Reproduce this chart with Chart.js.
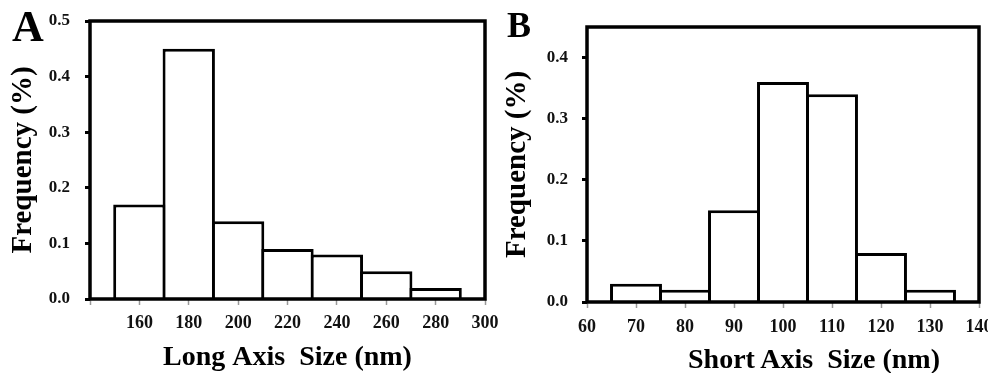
<!DOCTYPE html>
<html>
<head>
<meta charset="utf-8">
<script src="https://cdn.jsdelivr.net/npm/chart.js@4.4.1/dist/chart.umd.min.js"></script>
<style>
  html, body { margin: 0; padding: 0; background: #fff; }
  #wrap { position: relative; width: 988px; height: 373px; overflow: hidden; }
  canvas { position: absolute; top: 0; }
  #cA { left: 0; }
  #cB { left: 494px; }
  .txt { position: absolute; font-family: "Liberation Serif", "Times New Roman", serif; font-weight: bold; color: #000; line-height: 1; white-space: pre; }
</style>
</head>
<body>
<div id="wrap">
  <canvas id="cA" width="520" height="373"></canvas>
  <canvas id="cB" width="494" height="373"></canvas>
  <div class="txt" style="left:12px;top:5px;font-size:44px;">A</div>
  <div class="txt" style="left:507px;top:7px;font-size:36px;">B</div>
  <div class="txt" style="left:688px;top:345px;font-size:28px;">Short Axis  Size (nm)</div>
</div>
<script>
// ── data ──────────────────────────────────────────────────────────────
const longBins  = [160, 180, 200, 220, 240, 260, 280];   // bin centres (nm)
const longFreq  = [0.17, 0.45, 0.14, 0.09, 0.08, 0.05, 0.02];
const shortBins = [70, 80, 90, 100, 110, 120, 130];
const shortFreq = [0.03, 0.02, 0.15, 0.36, 0.34, 0.08, 0.02];

const SERIF = '"Liberation Serif", "Times New Roman", serif';
const INK = '#111';

// thick black box round the plot area
const framePlugin = {
  id: 'frame',
  afterDatasetsDraw(chart) {
    const { ctx, chartArea: a } = chart;
    ctx.save();
    ctx.strokeStyle = '#000';
    ctx.lineWidth = 3.5;
    ctx.strokeRect(a.left, a.top, a.right - a.left, a.bottom - a.top);
    ctx.restore();
  }
};

const noPad = s => { s.paddingLeft = 0; s.paddingRight = 0; s.paddingTop = 0; s.paddingBottom = 0; };

function histChart(id, bins, freq, o) {
  return new Chart(document.getElementById(id), {
    type: 'bar',
    data: {
      datasets: [{
        data: bins.map((b, i) => ({ x: b, y: freq[i] })),
        backgroundColor: '#fff', borderColor: '#000', borderWidth: 3,
        categoryPercentage: 1, barPercentage: 1.06
      }]
    },
    options: {
      responsive: false, animation: false,
      layout: { padding: o.pad },
      plugins: { legend: { display: false }, tooltip: { enabled: false } },
      scales: {
        x: {
          type: 'linear', min: o.xMin, max: o.xMax, offset: false,
          border: { display: false },
          grid: { offset: false, drawOnChartArea: false, drawTicks: true, tickLength: 6, tickColor: '#999', tickWidth: 1.5 },
          ticks: { stepSize: o.xStep, autoSkip: false, maxRotation: 0, padding: o.xPad,
                   color: INK, font: { family: SERIF, size: 18, weight: 'bold' },
                   callback: v => o.hideX.includes(v) ? '' : v },
          title: { display: !!o.xTitle, text: o.xTitle, color: '#000', padding: { top: 0, bottom: 1 },
                   font: { family: SERIF, size: 28, weight: 'bold', lineHeight: 1 } },
          afterFit: s => { s.height = o.xH; noPad(s); }
        },
        y: {
          min: 0, max: o.yMax,
          border: { display: false },
          grid: { drawOnChartArea: false, drawTicks: true, tickLength: 5, tickColor: '#000', tickWidth: 3 },
          ticks: { stepSize: 0.1, padding: o.yPad, color: INK, font: { family: SERIF, size: 17, weight: 'bold' },
                   callback: v => v.toFixed(1) },
          afterBuildTicks: s => { s.ticks = s.ticks.filter(t => Math.abs(t.value * 10 - Math.round(t.value * 10)) < 1e-6); },
          title: { display: true, text: 'Frequency (%)', color: '#000', padding: { top: 9, bottom: 0 },
                   font: { family: SERIF, size: 29, weight: 'bold', lineHeight: 1 } },
          afterFit: s => { s.width = o.yW; noPad(s); }
        }
      }
    },
    plugins: [framePlugin]
  });
}

histChart('cA', longBins, longFreq, {
  pad: { left: 0, top: 21, right: 35, bottom: 0 },
  xMin: 140, xMax: 300, xStep: 20, hideX: [140], xPad: 8, xH: 74,
  xTitle: 'Long Axis  Size (nm)', yMax: 0.5, yPad: 15, yW: 90
});

histChart('cB', shortBins, shortFreq, {
  pad: { left: 0, top: 27, right: 9, bottom: 0 },
  xMin: 60, xMax: 140, xStep: 10, hideX: [], xPad: 9, xH: 71,
  xTitle: '', yMax: 0.45, yPad: 14, yW: 93
});
</script>
</body>
</html>
